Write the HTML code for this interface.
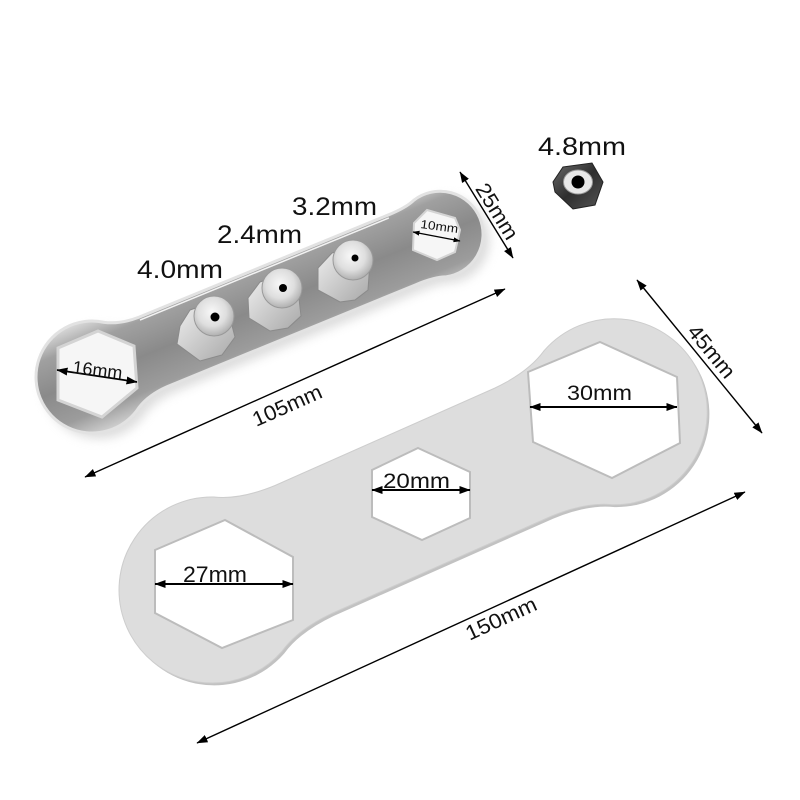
<!DOCTYPE html>
<html><head><meta charset="utf-8"><style>
html,body{margin:0;padding:0;background:#fff;}
svg{display:block;}
text{font-family:"Liberation Sans",Arial,sans-serif;fill:#111;}
</style></head><body>
<svg width="800" height="800" viewBox="0 0 800 800" xmlns="http://www.w3.org/2000/svg">
<defs>
<marker id="ah" viewBox="0 0 11 8" refX="10.5" refY="4" markerWidth="11" markerHeight="8" markerUnits="userSpaceOnUse" orient="auto-start-reverse"><path d="M0,0 L11,4 L0,8 z" fill="#000"/></marker>
<marker id="ahs" viewBox="0 0 7 5" refX="6.5" refY="2.5" markerWidth="7" markerHeight="5" markerUnits="userSpaceOnUse" orient="auto-start-reverse"><path d="M0,0 L7,2.5 L0,5 z" fill="#000"/></marker>
<linearGradient id="sw" gradientUnits="userSpaceOnUse" x1="0" y1="-56" x2="0" y2="56">
<stop offset="0" stop-color="#dadada"/><stop offset="0.2" stop-color="#a0a0a0"/><stop offset="0.5" stop-color="#8a8a8a"/><stop offset="0.8" stop-color="#9c9c9c"/><stop offset="1" stop-color="#d0d0d0"/>
</linearGradient>
<radialGradient id="col" cx="0.45" cy="0.4" r="0.6"><stop offset="0" stop-color="#f8f8f8"/><stop offset="0.6" stop-color="#dedede"/><stop offset="1" stop-color="#b0b0b0"/></radialGradient>
<linearGradient id="hexg" x1="0" y1="0" x2="1" y2="1"><stop offset="0" stop-color="#f0f0f0"/><stop offset="1" stop-color="#a8a8a8"/></linearGradient>
<linearGradient id="dark" x1="0" y1="0" x2="1" y2="1"><stop offset="0" stop-color="#6a6a6a"/><stop offset="0.5" stop-color="#2e2e2e"/><stop offset="1" stop-color="#555"/></linearGradient>
<filter id="sh" x="-20%" y="-20%" width="140%" height="140%"><feGaussianBlur stdDeviation="5"/></filter>
</defs>

<!-- Large wrench -->
<g transform="translate(212,590) rotate(-23.9)">
<path transform="translate(1,3)" fill="#c2c2c2" d="M39.3,-84.3 Q62,-71 100,-70 L340,-70 Q378,-71 400.7,-84.3 A93 93 0 1 1 400.7,84.3 Q378,71 340,70 L100,70 Q62,71 39.3,84.3 A93 93 0 1 1 39.3,-84.3 Z"/>
<path fill="#dddddd" stroke="#cdcdcd" stroke-width="1" d="M39.3,-84.3 Q62,-71 100,-70 L340,-70 Q378,-71 400.7,-84.3 A93 93 0 1 1 400.7,84.3 Q378,71 340,70 L100,70 Q62,71 39.3,84.3 A93 93 0 1 1 39.3,-84.3 Z"/>
</g>
<polygon points="225,520 293,557 293,620 222,648 155,613 155,550" fill="#fff" stroke="#bcbcbc" stroke-width="2"/>
<polygon points="418,448 470,472 470,518 422,540 372,517 372,470" fill="#fff" stroke="#bcbcbc" stroke-width="2"/>
<polygon points="600,342 677,377 680,443 612,478 533,442 528,372" fill="#fff" stroke="#bcbcbc" stroke-width="2"/>

<!-- Small wrench -->
<g transform="translate(92,377) rotate(-22.3)">
<path transform="translate(4,8)" fill="#bbb" opacity="0.5" filter="url(#sh)" d="M32.1,-45.9 Q46,-38 66,-37.5 L335,-37.5 Q355,-37.5 364.9,-41.5 A43 43 0 1 1 364.9,41.5 Q355,37.5 335,37.5 L66,37.5 Q46,38 32.1,45.9 A56 56 0 1 1 32.1,-45.9 Z"/>
<path fill="url(#sw)" stroke="#e2e2e2" stroke-width="3" d="M32.1,-45.9 Q46,-38 66,-37.5 L335,-37.5 Q355,-37.5 364.9,-41.5 A43 43 0 1 1 364.9,41.5 Q355,37.5 335,37.5 L66,37.5 Q46,38 32.1,45.9 A56 56 0 1 1 32.1,-45.9 Z"/>
<line x1="66" y1="-34.5" x2="335" y2="-34.5" stroke="#f2f2f2" stroke-width="1.5"/>
</g>
<polygon points="98,331 134,346 137,388 102,417 58,400 58,348" fill="#f6f6f6" stroke="#d4d4d4" stroke-width="3"/>
<polygon points="427,210 455,218 460,230 455,252 437,260 413,250 414,223" fill="#f6f6f6" stroke="#d4d4d4" stroke-width="2"/>

<!-- nuts on small wrench -->
<g>
<polygon points="190,310 213,302 230,318 235,337 222,355 200,361 177,344 180,326" fill="url(#hexg)" stroke="#8a8a8a" stroke-width="1"/>
<circle cx="214" cy="316" r="20" fill="url(#col)" stroke="#999" stroke-width="1"/>
<circle cx="215" cy="317" r="4.5" fill="#000"/>
</g>
<g>
<polygon points="260,282 282,274 298,290 301,316 288,328 270,331 249,318 248,298" fill="url(#hexg)" stroke="#8a8a8a" stroke-width="1"/>
<circle cx="282" cy="288" r="20" fill="url(#col)" stroke="#999" stroke-width="1"/>
<circle cx="283" cy="288" r="4" fill="#000"/>
</g>
<g>
<polygon points="332,253 354,245 370,261 368,290 355,300 340,302 318,290 318,268" fill="url(#hexg)" stroke="#8a8a8a" stroke-width="1"/>
<circle cx="353" cy="260" r="20" fill="url(#col)" stroke="#999" stroke-width="1"/>
<circle cx="355" cy="258" r="3.5" fill="#000"/>
</g>

<!-- 4.8mm nut -->
<polygon points="563,167 592,163 603,182 595,205 573,209 555,192 553,182" fill="url(#dark)" stroke="#222" stroke-width="1"/>
<ellipse cx="578" cy="182" rx="14.5" ry="12" fill="#e8e8e8" stroke="#999" stroke-width="1"/>
<circle cx="578" cy="182" r="6.5" fill="#000"/>

<!-- dimension arrows -->
<g stroke="#000" fill="none">
<line x1="85" y1="477" x2="505" y2="289" stroke-width="1.4" marker-start="url(#ah)" marker-end="url(#ah)"/>
<line x1="197" y1="743" x2="745" y2="492" stroke-width="1.4" marker-start="url(#ah)" marker-end="url(#ah)"/>
<line x1="460" y1="172" x2="513" y2="258" stroke-width="1.4" marker-start="url(#ah)" marker-end="url(#ah)"/>
<line x1="637" y1="280" x2="762" y2="433" stroke-width="1.4" marker-start="url(#ah)" marker-end="url(#ah)"/>
<line x1="57" y1="370" x2="137" y2="382" stroke-width="1.8" marker-start="url(#ah)" marker-end="url(#ah)"/>
<line x1="413" y1="232" x2="460" y2="241" stroke-width="1.2" marker-start="url(#ahs)" marker-end="url(#ahs)"/>
<line x1="155" y1="584" x2="293" y2="584" stroke-width="2" marker-start="url(#ah)" marker-end="url(#ah)"/>
<line x1="372" y1="490" x2="470" y2="490" stroke-width="2" marker-start="url(#ah)" marker-end="url(#ah)"/>
<line x1="530" y1="407" x2="677" y2="407" stroke-width="2" marker-start="url(#ah)" marker-end="url(#ah)"/>
</g>

<!-- labels -->
<text x="137" y="278" font-size="25" textLength="86" lengthAdjust="spacingAndGlyphs">4.0mm</text>
<text x="217" y="243" font-size="25" textLength="85" lengthAdjust="spacingAndGlyphs">2.4mm</text>
<text x="292" y="215" font-size="25" textLength="85" lengthAdjust="spacingAndGlyphs">3.2mm</text>
<text x="538" y="155" font-size="25" textLength="88" lengthAdjust="spacingAndGlyphs">4.8mm</text>
<text x="567" y="400" font-size="21" textLength="65" lengthAdjust="spacingAndGlyphs">30mm</text>
<text x="383" y="488" font-size="21" textLength="67" lengthAdjust="spacingAndGlyphs">20mm</text>
<text x="183" y="582" font-size="22" textLength="64" lengthAdjust="spacingAndGlyphs">27mm</text>
<text x="72" y="373" font-size="18" textLength="50" lengthAdjust="spacingAndGlyphs" transform="rotate(7 72 373)">16mm</text>
<text x="420" y="228" font-size="12" textLength="38" lengthAdjust="spacingAndGlyphs" transform="rotate(7.5 420 228)">10mm</text>
<text x="0" y="0" font-size="21" text-anchor="middle" textLength="74" lengthAdjust="spacingAndGlyphs" transform="translate(290,412) rotate(-24)">105mm</text>
<text x="0" y="0" font-size="21" text-anchor="middle" textLength="76" lengthAdjust="spacingAndGlyphs" transform="translate(504,625) rotate(-24.6)">150mm</text>
<text x="0" y="0" font-size="21" text-anchor="middle" textLength="62" lengthAdjust="spacingAndGlyphs" transform="translate(491,215) rotate(58.4)">25mm</text>
<text x="0" y="0" font-size="21" text-anchor="middle" textLength="62" lengthAdjust="spacingAndGlyphs" transform="translate(706,356) rotate(50.7)">45mm</text>
</svg>
</body></html>
